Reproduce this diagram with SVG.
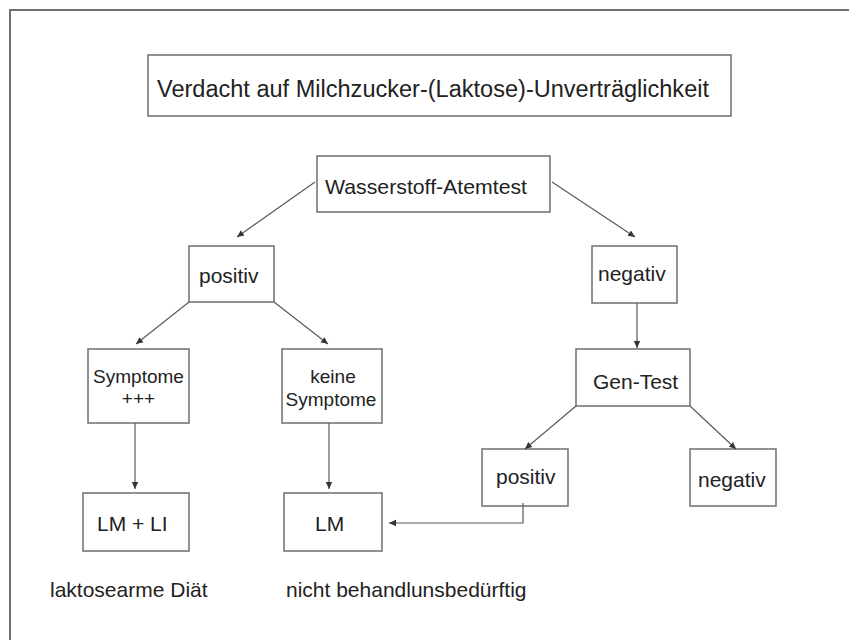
<svg xmlns="http://www.w3.org/2000/svg" width="849" height="640" viewBox="0 0 849 640">
  <style>
    .box { fill: #ffffff; stroke: #6e6e6e; stroke-width: 1.5; }
    .t { font-family: "Liberation Sans", Arial, sans-serif; fill: #222222; }
    .conn { fill: none; stroke: #5a5a5a; stroke-width: 1.2; }
    .frame { fill: none; stroke: #707070; stroke-width: 2; }
  </style>
  <defs>
    <marker id="arrow" markerUnits="userSpaceOnUse" markerWidth="8" markerHeight="8" viewBox="0 0 8 8" refX="7" refY="4" orient="auto">
      <path d="M0,0.8 L7,4 L0,7.2 Z" fill="#333333"/>
    </marker>
  </defs>
  <rect width="849" height="640" fill="#ffffff"/>
  <path class="frame" d="M10,640 L10,10 L849,10"/>

  <g id="title">
    <rect class="box" x="148" y="55" width="583" height="61"/>
    <text class="t" x="157" y="97" font-size="23" textLength="552" lengthAdjust="spacingAndGlyphs">Verdacht auf Milchzucker-(Laktose)-Unverträglichkeit</text>
  </g>
  <g id="wasserstoff">
    <rect class="box" x="317" y="156" width="233" height="56"/>
    <text class="t" x="325" y="194" font-size="21" textLength="202" lengthAdjust="spacingAndGlyphs">Wasserstoff-Atemtest</text>
  </g>
  <g id="positiv1">
    <rect class="box" x="189" y="246" width="85" height="56"/>
    <text class="t" x="199" y="283" font-size="21">positiv</text>
  </g>
  <g id="negativ1">
    <rect class="box" x="592" y="246" width="85" height="57"/>
    <text class="t" x="598" y="281" font-size="21">negativ</text>
  </g>
  <g id="symptome">
    <rect class="box" x="88" y="349" width="101" height="74"/>
    <text class="t" x="138.5" y="383" font-size="19" text-anchor="middle">Symptome</text>
    <text class="t" x="138.5" y="405" font-size="19" text-anchor="middle">+++</text>
  </g>
  <g id="keineSymptome">
    <rect class="box" x="282" y="349" width="100" height="74"/>
    <text class="t" x="333" y="383" font-size="19" text-anchor="middle">keine</text>
    <text class="t" x="331" y="406" font-size="19" text-anchor="middle">Symptome</text>
  </g>
  <g id="gentest">
    <rect class="box" x="576" y="349" width="114" height="57"/>
    <text class="t" x="593" y="389" font-size="21">Gen-Test</text>
  </g>
  <g id="positiv2">
    <rect class="box" x="482" y="449" width="86" height="57"/>
    <text class="t" x="496" y="484" font-size="21">positiv</text>
  </g>
  <g id="negativ2">
    <rect class="box" x="690" y="449" width="86" height="57"/>
    <text class="t" x="698" y="487" font-size="21">negativ</text>
  </g>
  <g id="lmli">
    <rect class="box" x="83" y="493" width="106" height="58"/>
    <text class="t" x="97" y="531" font-size="21">LM + LI</text>
  </g>
  <g id="lm">
    <rect class="box" x="284" y="493" width="98" height="58"/>
    <text class="t" x="315" y="531" font-size="21">LM</text>
  </g>
  <g id="labels">
    <text class="t" x="50" y="597" font-size="21">laktosearme Diät</text>
    <text class="t" x="286" y="597" font-size="21">nicht behandlunsbedürftig</text>
  </g>

  <g id="connectors">
    <line class="conn" x1="315" y1="182" x2="237" y2="237" marker-end="url(#arrow)"/>
    <line class="conn" x1="552" y1="182" x2="635" y2="237" marker-end="url(#arrow)"/>
    <line class="conn" x1="189" y1="302" x2="136" y2="344" marker-end="url(#arrow)"/>
    <line class="conn" x1="274" y1="302" x2="328" y2="344" marker-end="url(#arrow)"/>
    <line class="conn" x1="637" y1="303" x2="637" y2="348" marker-end="url(#arrow)"/>
    <line class="conn" x1="135" y1="423" x2="135" y2="489" marker-end="url(#arrow)"/>
    <line class="conn" x1="329" y1="423" x2="329" y2="489" marker-end="url(#arrow)"/>
    <line class="conn" x1="576" y1="406" x2="525" y2="449" marker-end="url(#arrow)"/>
    <line class="conn" x1="690" y1="406" x2="736" y2="449" marker-end="url(#arrow)"/>
    <polyline class="conn" points="523,503 523,523 389,523" marker-end="url(#arrow)"/>
  </g>
</svg>
